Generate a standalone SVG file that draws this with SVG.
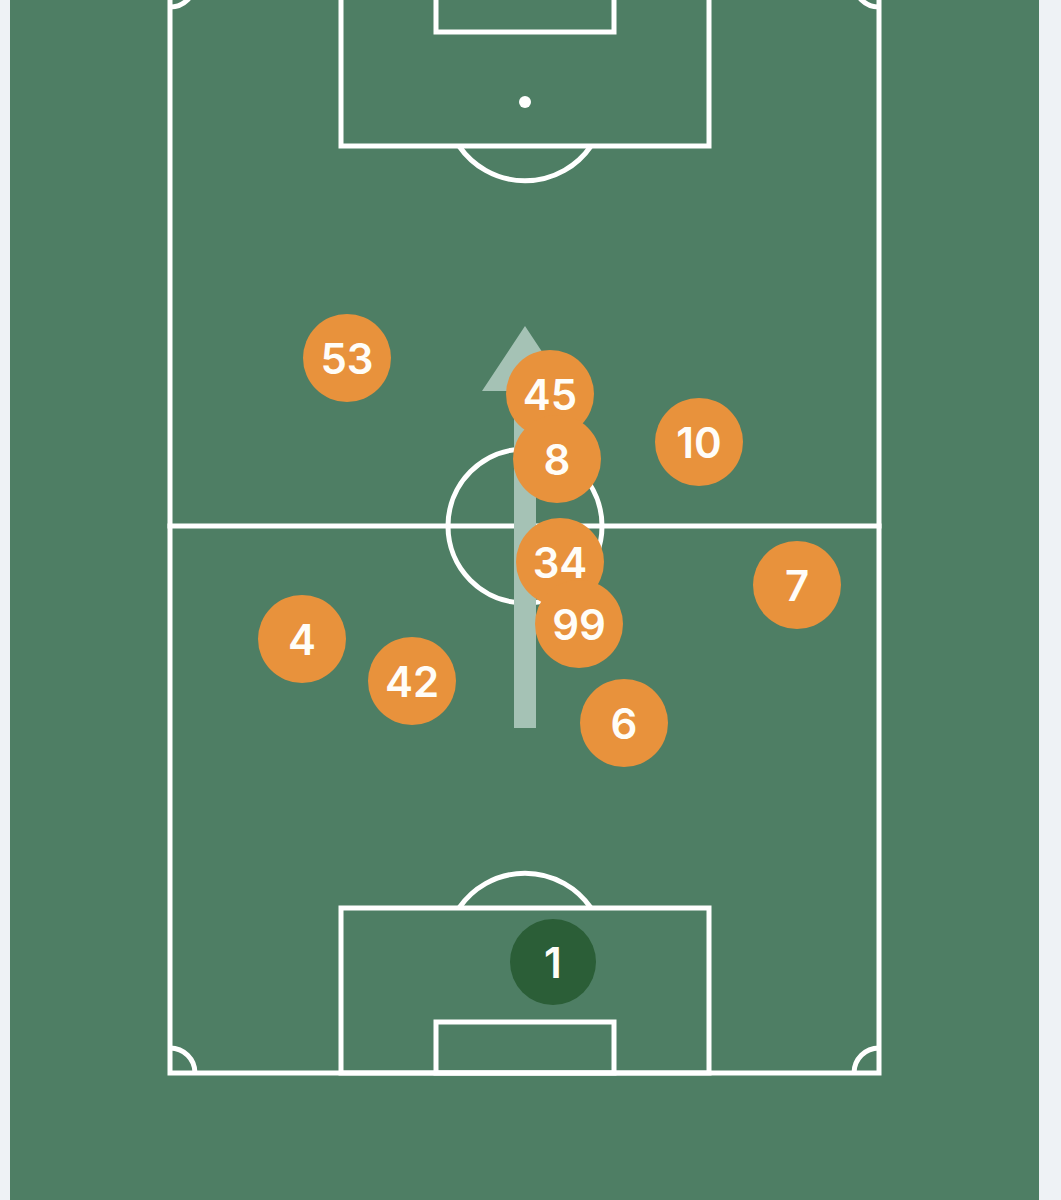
<svg xmlns="http://www.w3.org/2000/svg" width="1061" height="1200" viewBox="0 0 1061 1200">
<style>
.ln{fill:none;stroke:#ffffff;stroke-width:5;stroke-linejoin:miter;stroke-linecap:square}
.pl circle{fill:#e8923c}
.gk circle{fill:#2b5e37}
text{font-family:Inter,"Liberation Sans",sans-serif;font-weight:600;font-size:42px;fill:#fffdf8;text-anchor:middle;dominant-baseline:central}
</style>
<rect x="0" y="0" width="1061" height="1200" fill="#eef2f5"/>
<rect x="10" y="0" width="1029" height="1200" fill="#4e7e64"/>
<g id="pitch">
<rect class="ln" x="170" y="-18" width="709" height="1091"/>
<line class="ln" x1="170" y1="526" x2="879" y2="526"/>
<circle class="ln" cx="525" cy="526" r="77"/>
<rect class="ln" x="341" y="-30" width="368" height="176"/>
<rect class="ln" x="436" y="-30" width="178" height="62"/>
<circle cx="525" cy="102" r="6" fill="#ffffff"/>
<path class="ln" d="M459,146 A80,80 0 0 0 591,146" style="stroke-linecap:butt"/>
<rect class="ln" x="341" y="908" width="368" height="165"/>
<rect class="ln" x="436" y="1022" width="178" height="51"/>
<path class="ln" d="M459,908 A80,80 0 0 1 591,908" style="stroke-linecap:butt"/>
<path class="ln" d="M170,1048 A25,25 0 0 1 195,1073" style="stroke-linecap:butt"/>
<path class="ln" d="M879,1048 A25,25 0 0 0 854,1073" style="stroke-linecap:butt"/>
<path class="ln" d="M170,7 A25,25 0 0 0 195,-18" style="stroke-linecap:butt"/>
<path class="ln" d="M879,7 A25,25 0 0 1 854,-18" style="stroke-linecap:butt"/>
</g>
<g id="connectors">
<polygon id="run-arrow" points="514,728 536,728 536,391 568,391 525,326 482,391 514,391" fill="#a5c2b5"/>
</g>
<g id="p53" class="pl"><circle cx="347" cy="358" r="44"/><text x="347" y="358">53</text></g>
<g id="p45" class="pl"><circle cx="550" cy="394" r="44"/><text x="550" y="394">45</text></g>
<g id="p8" class="pl"><circle cx="557" cy="459" r="44"/><text x="557" y="459">8</text></g>
<g id="p10" class="pl"><circle cx="699" cy="442" r="44"/><text x="699" y="442">10</text></g>
<g id="p34" class="pl"><circle cx="560" cy="562" r="44"/><text x="560" y="562">34</text></g>
<g id="p7" class="pl"><circle cx="797" cy="585" r="44"/><text x="797" y="585">7</text></g>
<g id="p99" class="pl"><circle cx="579" cy="624" r="44"/><text x="579" y="624">99</text></g>
<g id="p4" class="pl"><circle cx="302" cy="639" r="44"/><text x="302" y="639">4</text></g>
<g id="p42" class="pl"><circle cx="412" cy="681" r="44"/><text x="412" y="681">42</text></g>
<g id="p6" class="pl"><circle cx="624" cy="723" r="44"/><text x="624" y="723">6</text></g>
<g id="p1" class="gk"><circle cx="553" cy="962" r="43"/><text x="553" y="962">1</text></g>
</svg>
